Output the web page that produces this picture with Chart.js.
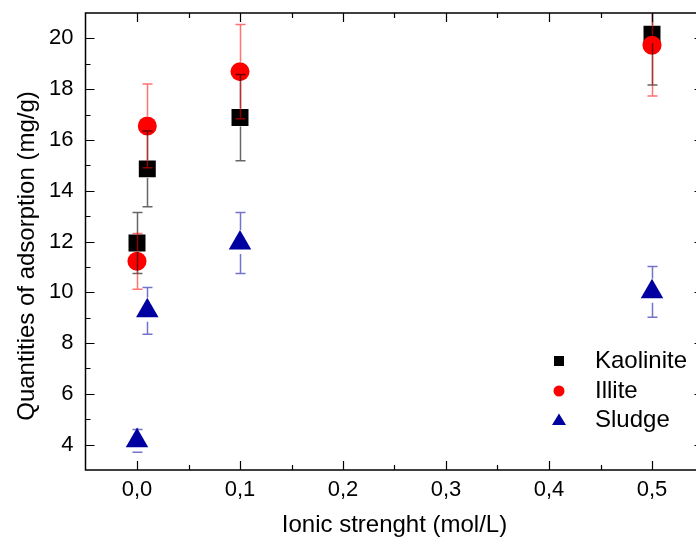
<!DOCTYPE html>
<html>
<head>
<meta charset="utf-8">
<script src="https://cdn.jsdelivr.net/npm/chart.js@4/dist/chart.umd.min.js"></script>
<style>
  html, body { margin: 0; padding: 0; background: #fff; overflow: hidden; }
  #wrap { width: 720px; height: 543px; }
</style>
</head>
<body>
<div id="wrap"><canvas id="chart" width="720" height="543"></canvas></div>
<script>
// values
const ionicStrength = [0, 0.01, 0.1, 0.5];
const kaolinite = [11.94, 14.86, 16.88, 20.16];
const kaoliniteErr = [1.2, 1.49, 1.7, 2.0];
const illite = [11.22, 16.55, 18.69, 19.73];
const illiteErr = [1.1, 1.65, 1.86, 2.0];
const sludge = [4.15, 9.27, 11.94, 10.02];
const sludgeErr = [0.45, 0.92, 1.2, 1.0];

const xTicks = [0, 0.1, 0.2, 0.3, 0.4, 0.5];
const xTickLabels = ['0,0', '0,1', '0,2', '0,3', '0,4', '0,5'];
const xMinorTicks = [0.05, 0.15, 0.25, 0.35, 0.45];
const yTicks = [4, 6, 8, 10, 12, 14, 16, 18, 20];
const yMinorTicks = [5, 7, 9, 11, 13, 15, 17, 19];

const FONT = '"Liberation Sans", Arial, sans-serif';
Chart.defaults.font.family = FONT;
Chart.defaults.color = '#000';

const toPoints = (ys) => ys.map((y, i) => ({ x: ionicStrength[i], y: y }));

const series = [
    { label: 'Kaolinite', data: kaolinite, err: kaoliniteErr, color: '#000000', barColor: 'rgba(0,0,0,0.6)', style: 'rect', radius: 12, gapUp: 9, gapDown: 9 },
    { label: 'Illite', data: illite, err: illiteErr, color: '#ff0000', barColor: 'rgba(255,0,0,0.55)', style: 'circle', radius: 9.5, gapUp: 10, gapDown: 10 },
    { label: 'Sludge', data: sludge, err: sludgeErr, color: '#0000a0', barColor: 'rgba(0,0,160,0.55)', style: 'triangle', radius: 13, gapUp: 13, gapDown: 11 }
];

// error bars, frame with inward ticks, y title and legend
const extras = {
    id: 'extras',
    afterDatasetsDraw(chart) {
        const ctx = chart.ctx;
        const xs = chart.scales.x, ys = chart.scales.y;
        const area = chart.chartArea;
        ctx.save();
        ctx.beginPath();
        ctx.rect(area.left, area.top, area.right - area.left, area.bottom - area.top);
        ctx.clip();
        ctx.lineWidth = 1.5;
        series.forEach(s => {
            ctx.strokeStyle = s.barColor;
            s.data.forEach((v, i) => {
                const px = Math.round(xs.getPixelForValue(ionicStrength[i])) + 0.5;
                const py = ys.getPixelForValue(v);
                const top = ys.getPixelForValue(v + s.err[i]);
                const bot = ys.getPixelForValue(v - s.err[i]);
                ctx.beginPath();
                ctx.moveTo(px, top); ctx.lineTo(px, py - s.gapUp);
                ctx.moveTo(px, py + s.gapDown); ctx.lineTo(px, bot);
                ctx.moveTo(px - 5, top); ctx.lineTo(px + 5, top);
                ctx.moveTo(px - 5, bot); ctx.lineTo(px + 5, bot);
                ctx.stroke();
            });
        });
        ctx.restore();
    },
    afterDraw(chart) {
        const ctx = chart.ctx;
        const xs = chart.scales.x, ys = chart.scales.y;
        const a = chart.chartArea;
        ctx.save();
        ctx.strokeStyle = '#000';
        ctx.lineWidth = 1.5;
        ctx.strokeRect(a.left, a.top, a.right - a.left, a.bottom - a.top);
        ctx.lineWidth = 1.2;
        ctx.beginPath();
        const tickX = (v, len) => {
            const p = Math.round(xs.getPixelForValue(v)) + 0.5;
            ctx.moveTo(p, a.bottom); ctx.lineTo(p, a.bottom - len);
            ctx.moveTo(p, a.top); ctx.lineTo(p, a.top + len);
        };
        const tickY = (v, len) => {
            const p = Math.round(ys.getPixelForValue(v)) + 0.5;
            ctx.moveTo(a.left, p); ctx.lineTo(a.left + len, p);
            ctx.moveTo(a.right, p); ctx.lineTo(a.right - len, p);
        };
        xTicks.forEach(v => tickX(v, 9));
        xMinorTicks.forEach(v => tickX(v, 5));
        yTicks.forEach(v => tickY(v, 9));
        yMinorTicks.forEach(v => tickY(v, 5));
        ctx.stroke();

        // y axis title
        ctx.fillStyle = '#000';
        ctx.font = '24px ' + FONT;
        ctx.textAlign = 'center';
        ctx.textBaseline = 'middle';
        ctx.translate(27, 256);
        ctx.rotate(-Math.PI / 2);
        ctx.fillText('Quantities of adsorption (mg/g)', 0, 0);
        ctx.setTransform(1, 0, 0, 1, 0, 0);

        // legend
        const rows = [361, 391, 420];
        series.forEach((s, i) => {
            const y = rows[i];
            ctx.fillStyle = s.color;
            ctx.beginPath();
            if (s.style === 'rect') {
                ctx.rect(554, y - 5, 10, 10);
            } else if (s.style === 'circle') {
                ctx.arc(559, y, 5.5, 0, Math.PI * 2);
            } else {
                ctx.moveTo(559, y - 6.5);
                ctx.lineTo(566, y + 5);
                ctx.lineTo(552, y + 5);
                ctx.closePath();
            }
            ctx.fill();
            ctx.fillStyle = '#000';
            ctx.textAlign = 'left';
            ctx.textBaseline = 'middle';
            ctx.font = '24px ' + FONT;
            ctx.fillText(s.label, 595, y);
        });
        ctx.restore();
    }
};

new Chart(document.getElementById('chart').getContext('2d'), {
    type: 'scatter',
    data: {
        datasets: series.map((s, i) => ({
            label: s.label,
            data: toPoints(s.data),
            pointStyle: s.style,
            pointRadius: s.radius,
            pointHoverRadius: s.radius,
            backgroundColor: s.color,
            borderColor: s.color,
            borderWidth: 0,
            order: 3 - i
        }))
    },
    options: {
        responsive: false,
        animation: false,
        events: [],
        layout: { padding: { top: 10, right: 16.5, left: 0, bottom: 0 } },
        plugins: { legend: { display: false }, tooltip: { enabled: false } },
        scales: {
            x: {
                type: 'linear',
                min: -0.05,
                max: 0.55,
                afterBuildTicks: (scale) => { scale.ticks = xTicks.map(v => ({ value: v })); },
                afterFit: (scale) => {
                    scale.height = 73;
                    scale.paddingLeft = 0; scale.paddingRight = 0;
                    scale.paddingTop = 0; scale.paddingBottom = 0;
                },
                grid: { display: false, drawTicks: false },
                border: { display: false },
                ticks: {
                    padding: 7,
                    font: { size: 22 },
                    color: '#000',
                    maxRotation: 0,
                    autoSkip: false,
                    callback: (v, i) => xTickLabels[i]
                },
                title: {
                    display: true,
                    text: 'Ionic strenght (mol/L)',
                    font: { size: 24 },
                    color: '#000',
                    padding: { top: 0, bottom: 3 }
                }
            },
            y: {
                type: 'linear',
                min: 3,
                max: 21,
                afterBuildTicks: (scale) => { scale.ticks = yTicks.map(v => ({ value: v })); },
                afterFit: (scale) => {
                    scale.width = 85.5;
                    scale.paddingLeft = 0; scale.paddingRight = 0;
                    scale.paddingTop = 0; scale.paddingBottom = 0;
                },
                grid: { display: false, drawTicks: false },
                border: { display: false },
                ticks: {
                    padding: 12,
                    font: { size: 22 },
                    color: '#000',
                    autoSkip: false,
                    callback: (v) => String(v)
                }
            }
        }
    },
    plugins: [extras]
});
</script>
</body>
</html>
